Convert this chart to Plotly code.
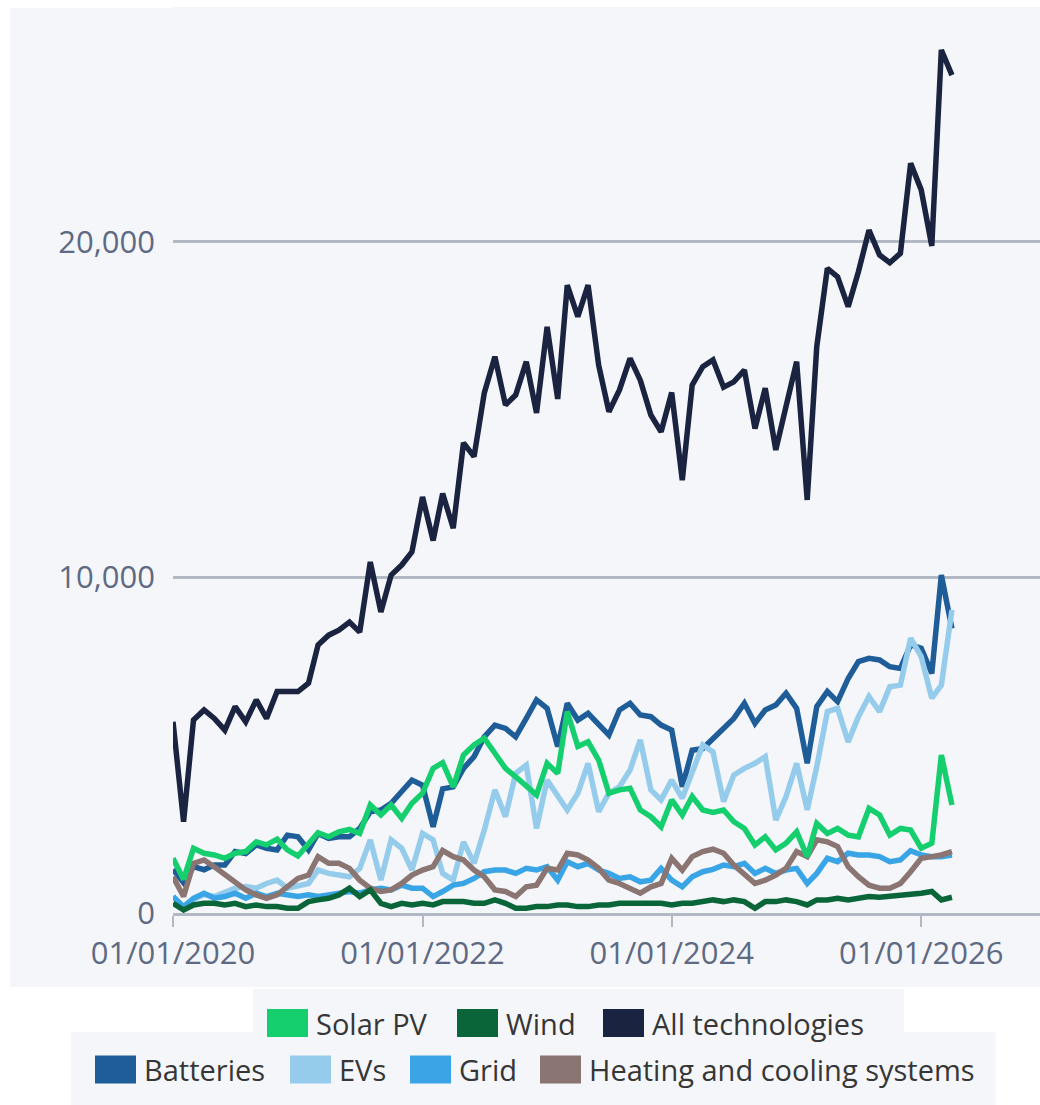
import pandas as pd
import plotly.graph_objects as go

# ---------------- data (monthly, Jan 2020 - Apr 2026) ----------------
months = pd.date_range("2020-01-01", "2026-04-01", freq="MS")

all_technologies = [5700, 2720, 5750, 6050, 5800, 5450, 6150, 5700, 6350, 5800, 6600, 6600,
                    6600, 6850, 7990, 8280, 8430, 8670, 8370, 10460, 8970, 10070, 10370, 10760,
                    12400, 11100, 12500, 11470, 14010, 13600, 15500, 16580, 15140, 15440, 16430, 14900,
                    17470, 15320, 18710, 17770, 18710, 16330, 14940, 15590, 16530, 15880, 14840, 14340,
                    15510, 12900, 15730, 16280, 16480, 15670, 15830, 16180, 14440, 15640, 13800, 15100,
                    16430, 12310, 16880, 19210, 18960, 18070, 19110, 20350, 19610, 19380, 19660, 22340,
                    21550, 19880, 25720, 24970]
batteries = [1300, 900, 1380, 1290, 1430, 1430, 1830, 1770, 2030, 1930, 1880, 2320,
             2270, 1880, 2370, 2220, 2270, 2270, 2520, 3020, 3070, 3270, 3620, 3960,
             3810, 2570, 3700, 3760, 4310, 4660, 5250, 5600, 5500, 5250, 5800, 6350,
             6100, 4960, 6250, 5750, 5950, 5600, 5300, 6050, 6250, 5900, 5850, 5600,
             5450, 3760, 4850, 4900, 5200, 5550, 5800, 6250, 5650, 6050, 6200, 6550,
             6100, 4460, 6150, 6600, 6300, 6990, 7490, 7590, 7540, 7340, 7290, 7990,
             7890, 7140, 10070, 8480]
evs = [500, 150, 400, 550, 490, 620, 740, 790, 740, 880, 980, 740,
       830, 880, 1280, 1180, 1130, 1080, 1330, 2180, 980, 2180, 1930, 1280,
       2370, 2180, 1180, 980, 2120, 1480, 2470, 3670, 2870, 4160, 4410, 2520,
       3960, 3470, 3070, 3570, 4460, 3020, 3570, 3760, 4260, 5160, 3670, 3370,
       3960, 3420, 4160, 5010, 4800, 3320, 4110, 4310, 4460, 4660, 2770, 3470,
       4460, 3070, 4360, 6000, 6100, 5100, 5850, 6450, 6000, 6740, 6790, 8190,
       7640, 6400, 6790, 9030]
grid = [490, 190, 440, 590, 440, 490, 590, 440, 590, 490, 590, 540,
        490, 540, 490, 540, 590, 640, 590, 690, 740, 690, 830, 740,
        740, 490, 640, 830, 880, 1030, 1230, 1280, 1280, 1180, 1330, 1280,
        1380, 980, 1530, 1380, 1480, 1280, 1180, 1030, 1080, 930, 980, 1330,
        980, 780, 1080, 1230, 1300, 1430, 1380, 1480, 1180, 1330, 1180, 1280,
        1330, 880, 1180, 1630, 1530, 1780, 1730, 1730, 1680, 1530, 1580, 1860,
        1730, 1680, 1680, 1730]
heating_cooling = [1080, 490, 1480, 1580, 1380, 1130, 930, 690, 540, 440, 540, 780,
                   1030, 1130, 1680, 1480, 1480, 1330, 980, 740, 640, 690, 880, 1130,
                   1280, 1380, 1860, 1680, 1580, 1280, 1080, 690, 640, 490, 780, 830,
                   1330, 1280, 1780, 1730, 1580, 1330, 980, 880, 740, 590, 780, 880,
                   1630, 1280, 1680, 1830, 1900, 1780, 1430, 1130, 880, 980, 1130, 1330,
                   1830, 1680, 2180, 2120, 1980, 1380, 1080, 830, 740, 740, 880, 1230,
                   1630, 1680, 1730, 1830]
solar_pv = [1630, 1000, 1930, 1780, 1730, 1630, 1780, 1830, 2120, 2030, 2200, 1880,
            1700, 2080, 2390, 2270, 2420, 2490, 2370, 3220, 2920, 3220, 2820, 3270,
            3570, 4310, 4480, 3760, 4710, 5010, 5210, 4760, 4310, 4060, 3810, 3520,
            4460, 4160, 6000, 4960, 5100, 4560, 3570, 3670, 3720, 3070, 2870, 2570,
            3370, 2920, 3470, 3070, 3000, 3070, 2720, 2520, 2030, 2270, 1880, 2080,
            2420, 1680, 2670, 2370, 2520, 2320, 2270, 3120, 2920, 2320, 2520, 2470,
            1930, 2080, 4710, 3220]
wind = [290, 90, 240, 290, 290, 240, 290, 190, 240, 190, 190, 140,
        140, 340, 390, 440, 540, 740, 490, 690, 290, 190, 290, 240,
        290, 240, 340, 340, 340, 290, 290, 390, 290, 140, 140, 190,
        190, 240, 240, 190, 190, 240, 240, 290, 290, 290, 290, 290,
        240, 290, 290, 340, 390, 340, 390, 340, 140, 340, 340, 390,
        340, 240, 390, 390, 440, 390, 440, 490, 470, 490, 540, 540,
        590, 640, 390, 470]

x_tick_dates = ["2020-01-01", "2022-01-01", "2024-01-01", "2026-01-01"]
y_tick_values = [0, 10000, 20000]

# drawing order (bottom -> top)
series = [
    ("Batteries", batteries, "#1f5d99"),
    ("EVs", evs, "#95ccec"),
    ("Grid", grid, "#3aa5e6"),
    ("Heating and cooling systems", heating_cooling, "#8a7572"),
    ("Solar PV", solar_pv, "#15cf6f"),
    ("Wind", wind, "#0a6638"),
    ("All technologies", all_technologies, "#1a2340"),
]
colors = {name: c for name, _, c in series}

legend_row1 = ["Solar PV", "Wind", "All technologies"]
legend_row2 = ["Batteries", "EVs", "Grid", "Heating and cooling systems"]

# ---------------- figure ----------------
FIG_W, FIG_H = 1040, 1105
L, T, R, B = 173, 7, 0, 192
PW, PH = FIG_W - L - R, FIG_H - T - B

def px(x):
    return (x - L) / PW

def py(y):
    return (T + PH - y) / PH

BG = "#f5f6fa"
AXIS_C = "#b3b8c5"
TICK_FONT_C = "#5e6a84"
FONT = "Open Sans, Noto Sans, sans-serif"

fig = go.Figure()
for name, vals, col in series:
    fig.add_trace(go.Scatter(x=months, y=vals, name=name, mode="lines",
                             line=dict(color=col, width=5.5), showlegend=False,
                             hovertemplate="%{x|%b %Y}: %{y:,}<extra>" + name + "</extra>"))

shapes = [
    dict(type="rect", xref="paper", yref="paper", x0=px(10), x1=1, y0=py(987), y1=py(8),
         fillcolor=BG, line_width=0, layer="below"),
    dict(type="rect", xref="paper", yref="paper", x0=px(253), x1=px(904), y0=py(1032), y1=py(989),
         fillcolor=BG, line_width=0, layer="below"),
    dict(type="rect", xref="paper", yref="paper", x0=px(71), x1=px(996), y0=py(1105), y1=py(1032),
         fillcolor=BG, line_width=0, layer="below"),
]
annotations = []

row1_pos = [267, 457, 603]
row2_pos = [95, 290, 410, 540]
for names, xs, yc in ((legend_row1, row1_pos, 1023), (legend_row2, row2_pos, 1069.5)):
    for name, x0 in zip(names, xs):
        shapes.append(dict(type="rect", xref="paper", yref="paper",
                           x0=px(x0), x1=px(x0 + 41), y0=py(yc + 14), y1=py(yc - 14),
                           fillcolor=colors[name], line_width=0, layer="above"))
        annotations.append(dict(xref="paper", yref="paper", x=px(x0 + 47), y=py(yc),
                                xanchor="left", yanchor="middle", showarrow=False,
                                text=name, font=dict(family=FONT, size=29, color="#363636")))

fig.update_layout(
    width=FIG_W, height=FIG_H,
    margin=dict(l=L, r=R, t=T, b=B),
    paper_bgcolor="white", plot_bgcolor=BG,
    showlegend=False,
    shapes=shapes, annotations=annotations,
    font=dict(family=FONT),
    xaxis=dict(type="date", range=["2020-01-01", "2026-12-15"],
               tickvals=x_tick_dates, tickformat="%d/%m/%Y",
               showgrid=False, zeroline=False,
               showline=True, linecolor=AXIS_C, linewidth=3,
               ticks="outside", ticklen=11, tickwidth=2, tickcolor=AXIS_C,
               tickfont=dict(family=FONT, size=31, color=TICK_FONT_C)),
    yaxis=dict(range=[0, 27000], tickvals=y_tick_values, tickformat=",",
               showgrid=True, gridcolor=AXIS_C, gridwidth=2.5,
               zeroline=False, showline=False, ticks="",
               ticklabelstandoff=17,
               tickfont=dict(family=FONT, size=31, color=TICK_FONT_C)),
)

fig.write_html("out.html", config={"displayModeBar": False},
               post_script="document.body.style.margin='0';")
